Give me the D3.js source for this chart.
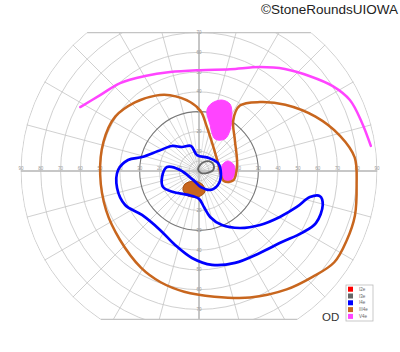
<!DOCTYPE html>
<html>
<head>
<meta charset="utf-8">
<script src="https://cdn.jsdelivr.net/npm/d3@7"></script>
<style>
  body { margin: 0; background: #fff; }
  svg { display: block; font-family: "Liberation Sans", Arial, sans-serif; }
</style>
</head>
<body>
<div class="field"></div>
<script>
var width = 400,
    height = 352,
    cx = 199,
    cy = 171;

// isopters as [meridian deg, eccentricity deg]
var iso_III4e = [[111,41],[97,35],[88,30],[81,23.5],[66,16],[23,10.5],[-22,13.5],[-15,18],[9,19.5],[41,24],[56,31],[58,39],[48.5,46.5],[37.5,55],[25,65],[14,73.5],[5,79],[-5,80],[-16,82],[-25,82.5],[-34,82.5],[-43,78.5],[-53.5,74.5],[-68,69],[-83,64],[-97,61.5],[-109,59.5],[-121,57],[-139,53],[-157,51],[-178,50],[163,50.5],[147,50.5],[133,47.5],[120,44]];
var iso_I4e = [[-15.4,64.9],[-11.7,62.4],[-13.2,57.6],[-20.2,52.7],[-29.6,47],[-41.5,41.2],[-54.3,35.5],[-67,29.7],[-76.4,23.9],[-82.2,18.4],[-90,14.1],[-114.8,13.3],[-141,16.9],[-156,19.9],[-170.9,18.9],[173,16.3],[177,9.6],[-123.7,5.4],[-83,8.2],[-59.7,11.1],[-36.5,11.9],[-7.8,11.2],[22.8,10.4],[52.5,8.3],[97,8.1],[107.7,13.3],[125.4,14.9],[137.2,18.6],[154,23],[166.2,29.6],[171.2,36.3],[179.3,40.9],[-168.3,42.3],[-155.3,41.1],[-142.4,36.4],[-123.5,35.7],[-107.9,39.3],[-94.6,44.1],[-82.1,47.9],[-68.6,49.9],[-53.4,51.6],[-40.6,55.2],[-31,60.7],[-24,64.7]];
var iso_I3e = [[80.5,3],[61,5.2],[42,7.2],[24.7,8],[3.8,7.2],[-12.5,4.4],[-45,1.4],[117,1.1]];
var iso_V4e = [[151.7,68.2],[142.5,63],[131.9,59.7],[119.6,55.2],[106.3,52.1],[89.4,51],[73,53.8],[59.6,60.9],[49.9,67.4],[40.5,73.8],[32.4,80.1],[25.2,84.3],[16.7,85.9],[8.3,87.8]];
var scot_V4e_a = [[79.1,35],[72.1,37.7],[65.1,37.3],[59.5,32.8],[52.8,26],[51,20.8],[63.4,18.1],[76.4,23.9],[82.6,31.1]];
var scot_V4e_b = [[19.2,15.5],[9.7,17.9],[-3.2,18.2],[-15.6,16.8],[-19.8,13.4],[-2.6,11.1],[16.1,12.6]];
var scot_III4e = [[-137.1,9.7],[-111.8,5.5],[-74.3,7.4],[-74.2,11],[-92.2,13.1],[-114,13.8],[-130,12.6]];

var rings = [10, 20, 30, 40, 50, 60, 70, 80, 90];
var innerRings = [5];
var hLabels = [10, 20, 30, 40, 50, 60, 70, 80, 90];
var vLabels = [10, 20, 30, 40, 50, 60, 70];
var meridians = d3.range(0, 360, 15);
var innerMeridians = d3.range(7.5, 360, 15);
var legendNames = ["I2e", "I3e", "I4e", "III4e", "V4e"];

var color = d3.scaleOrdinal()
    .domain(legendNames)
    .range(["#ff0000", "#666666", "#0000ff", "#c8661e", "#ff44ff"]);

var r = d3.scaleLinear().domain([0, 90]).range([0, 178]);
var topLimit = 70, bottomLimit = 75;

function project(p) {
    var a = p[0] * Math.PI / 180;
    return [cx + r(p[1]) * Math.cos(a), cy - r(p[1]) * Math.sin(a)];
}

var closedLine = d3.line().curve(d3.curveCatmullRomClosed.alpha(0.5));
var openLine = d3.line().curve(d3.curveCatmullRom.alpha(0.5));

var svg = d3.select(".field").append("svg")
    .attr("width", width)
    .attr("height", height);

var defs = svg.append("defs");
defs.append("clipPath").attr("id", "clipRect")
    .append("rect")
    .attr("x", 0).attr("y", cy - r(topLimit))
    .attr("width", width).attr("height", r(topLimit) + r(bottomLimit));
defs.append("clipPath").attr("id", "clipDisc")
    .append("circle")
    .attr("cx", cx).attr("cy", cy).attr("r", r(90) + 0.5);

var grid = svg.append("g").attr("clip-path", "url(#clipRect)")
    .append("g").attr("clip-path", "url(#clipDisc)");

grid.selectAll(".merid")
    .data(meridians)
    .enter().append("line")
    .attr("x1", cx).attr("y1", cy)
    .attr("x2", function (d) { return project([d, 95])[0]; })
    .attr("y2", function (d) { return project([d, 95])[1]; })
    .attr("stroke", "#c4c4c4")
    .attr("stroke-width", 0.8);

// finer meridians inside the 30 deg ring
grid.selectAll(".imerid")
    .data(innerMeridians)
    .enter().append("line")
    .attr("x1", function (d) { return project([d, 5])[0]; })
    .attr("y1", function (d) { return project([d, 5])[1]; })
    .attr("x2", function (d) { return project([d, 30])[0]; })
    .attr("y2", function (d) { return project([d, 30])[1]; })
    .attr("stroke", "#d2d2d2")
    .attr("stroke-width", 0.6);

grid.selectAll(".ring")
    .data(innerRings.concat(rings))
    .enter().append("circle")
    .attr("cx", cx).attr("cy", cy)
    .attr("r", function (d) { return r(d); })
    .attr("fill", "none")
    .attr("stroke", function (d) { return d == 30 ? "#777" : "#c4c4c4"; })
    .attr("stroke-width", function (d) { return d == 30 ? 1.1 : 0.8; });

// axes
grid.append("line")
    .attr("x1", cx - r(90)).attr("x2", cx + r(90))
    .attr("y1", cy).attr("y2", cy)
    .attr("stroke", "#bdbdbd").attr("stroke-width", 1.6);
grid.append("line")
    .attr("x1", cx).attr("x2", cx)
    .attr("y1", cy - r(topLimit)).attr("y2", cy + r(bottomLimit))
    .attr("stroke", "#bdbdbd").attr("stroke-width", 1.6);

// top and bottom edges
var topHalf = Math.sqrt(r(90) * r(90) - r(topLimit) * r(topLimit));
var botHalf = Math.sqrt(r(90) * r(90) - r(bottomLimit) * r(bottomLimit));
svg.append("line")
    .attr("x1", cx - topHalf).attr("x2", cx + topHalf)
    .attr("y1", cy - r(topLimit)).attr("y2", cy - r(topLimit))
    .attr("stroke", "#c4c4c4").attr("stroke-width", 1.2);
svg.append("line")
    .attr("x1", cx - botHalf).attr("x2", cx + botHalf)
    .attr("y1", cy + r(bottomLimit)).attr("y2", cy + r(bottomLimit))
    .attr("stroke", "#c4c4c4").attr("stroke-width", 1.2);

// tick labels
var labels = svg.append("g")
    .attr("font-size", 4.5)
    .attr("fill", "#999")
    .attr("text-anchor", "middle");
labels.selectAll(".hl")
    .data(hLabels.map(function (d) { return -d; }).concat(hLabels))
    .enter().append("text")
    .attr("x", function (d) { return cx + (d < 0 ? -r(-d) : r(d)); })
    .attr("y", cy - 1)
    .text(function (d) { return Math.abs(d); });
labels.selectAll(".vl")
    .data(vLabels.map(function (d) { return -d; }).concat(vLabels))
    .enter().append("text")
    .attr("x", cx)
    .attr("y", function (d) { return cy - (d < 0 ? -r(-d) : r(d)) + 1.5; })
    .text(function (d) { return Math.abs(d); });

// scotomas
var marks = svg.append("g");
marks.append("path")
    .attr("d", closedLine(scot_V4e_a.map(project)))
    .attr("fill", color("V4e"))
    .attr("stroke", color("V4e")).attr("stroke-width", 1);
marks.append("path")
    .attr("d", closedLine(scot_V4e_b.map(project)))
    .attr("fill", color("V4e"))
    .attr("stroke", color("V4e")).attr("stroke-width", 1);
marks.append("path")
    .attr("d", closedLine(scot_III4e.map(project)))
    .attr("fill", color("III4e"))
    .attr("stroke", "#a9500f").attr("stroke-width", 1);

// isopters
marks.append("path")
    .attr("d", openLine(iso_V4e.map(project)))
    .attr("fill", "none")
    .attr("stroke", color("V4e")).attr("stroke-width", 2.5)
    .attr("stroke-linecap", "round");
marks.append("path")
    .attr("d", closedLine(iso_III4e.map(project)))
    .attr("fill", "none")
    .attr("stroke", color("III4e")).attr("stroke-width", 2.5);
marks.append("path")
    .attr("d", closedLine(iso_I4e.map(project)))
    .attr("fill", "none")
    .attr("stroke", color("I4e")).attr("stroke-width", 2.7);
marks.append("path")
    .attr("d", closedLine(iso_I3e.map(project)))
    .attr("fill", "none")
    .attr("stroke", color("I3e")).attr("stroke-width", 1.8);

// legend
var legend = svg.append("g").attr("transform", "translate(346,285)");
legend.append("rect")
    .attr("width", 27).attr("height", 36)
    .attr("fill", "#fff")
    .attr("stroke", "#bbb").attr("stroke-width", 0.8);
var item = legend.selectAll(".item")
    .data(legendNames)
    .enter().append("g")
    .attr("transform", function (d, i) { return "translate(2," + (1.7 + i * 6.8) + ")"; });
item.append("rect")
    .attr("width", 5).attr("height", 5)
    .attr("fill", function (d) { return color(d); });
item.append("text")
    .attr("x", 11).attr("y", 4.2)
    .attr("font-size", 4.5)
    .attr("fill", "#666")
    .text(function (d) { return d; });

svg.append("text")
    .attr("x", 322).attr("y", 320.5)
    .attr("font-size", 11.5)
    .attr("fill", "#333")
    .text("OD");

svg.append("text")
    .attr("x", 398).attr("y", 14)
    .attr("text-anchor", "end")
    .attr("font-size", 13.5)
    .attr("fill", "#222")
    .text("\u00A9StoneRoundsUIOWA");
</script>
</body>
</html>
